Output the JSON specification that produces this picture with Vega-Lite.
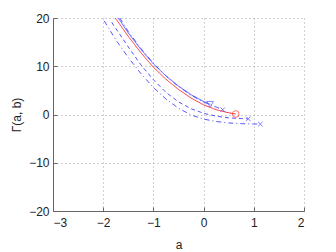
{
  "$schema": "https://vega.github.io/schema/vega-lite/v6.json",
  "autosize": "none",
  "width": 251,
  "height": 193,
  "padding": {"left": 53, "top": 18, "right": 32, "bottom": 41},
  "background": "white",
  "config": {
    "font": "Liberation Sans",
    "view": {"stroke": null},
    "axis": {
      "labelFont": "Liberation Sans",
      "titleFont": "Liberation Sans",
      "labelFontSize": 12,
      "titleFontSize": 12,
      "titleFontWeight": "normal",
      "labelColor": "#222",
      "titleColor": "#222",
      "domainColor": "#666",
      "tickColor": "#666",
      "gridColor": "#999",
      "gridDash": [1, 3],
      "gridOpacity": 0.9
    }
  },
  "datasets": {
    "lines": [
      {"s": "s1", "a": -1.70, "y": 20.0}, {"s": "s1", "a": -1.5, "y": 16.9}, {"s": "s1", "a": -1.25, "y": 13.5}, {"s": "s1", "a": -1.0, "y": 10.5}, {"s": "s1", "a": -0.75, "y": 8.0}, {"s": "s1", "a": -0.5, "y": 5.9}, {"s": "s1", "a": -0.25, "y": 4.1}, {"s": "s1", "a": 0.0, "y": 2.7}, {"s": "s1", "a": 0.13, "y": 2.1},
      {"s": "s2", "a": -1.67, "y": 20.0}, {"s": "s2", "a": -1.5, "y": 17.2}, {"s": "s2", "a": -1.25, "y": 13.7}, {"s": "s2", "a": -1.0, "y": 10.6}, {"s": "s2", "a": -0.75, "y": 8.0}, {"s": "s2", "a": -0.5, "y": 5.8}, {"s": "s2", "a": -0.25, "y": 4.0}, {"s": "s2", "a": 0.0, "y": 2.6}, {"s": "s2", "a": 0.13, "y": 2.05}, {"s": "s2", "a": 0.25, "y": 1.55}, {"s": "s2", "a": 0.38, "y": 1.0},
      {"s": "s3", "a": -1.76, "y": 20.0}, {"s": "s3", "a": -1.5, "y": 16.2}, {"s": "s3", "a": -1.25, "y": 12.8}, {"s": "s3", "a": -1.0, "y": 9.8}, {"s": "s3", "a": -0.75, "y": 7.3}, {"s": "s3", "a": -0.5, "y": 5.2}, {"s": "s3", "a": -0.25, "y": 3.4}, {"s": "s3", "a": 0.0, "y": 2.0}, {"s": "s3", "a": 0.25, "y": 1.0}, {"s": "s3", "a": 0.5, "y": 0.35}, {"s": "s3", "a": 0.64, "y": 0.1},
      {"s": "s4", "a": -1.83, "y": 19.1}, {"s": "s4", "a": -1.5, "y": 14.0}, {"s": "s4", "a": -1.25, "y": 10.3}, {"s": "s4", "a": -1.0, "y": 7.2}, {"s": "s4", "a": -0.75, "y": 4.6}, {"s": "s4", "a": -0.5, "y": 2.6}, {"s": "s4", "a": -0.25, "y": 1.2}, {"s": "s4", "a": 0.0, "y": 0.25}, {"s": "s4", "a": 0.25, "y": -0.35}, {"s": "s4", "a": 0.5, "y": -0.7}, {"s": "s4", "a": 0.75, "y": -0.85}, {"s": "s4", "a": 0.89, "y": -0.9},
      {"s": "s5", "a": -1.98, "y": 19.4}, {"s": "s5", "a": -1.75, "y": 15.5}, {"s": "s5", "a": -1.5, "y": 11.8}, {"s": "s5", "a": -1.25, "y": 8.5}, {"s": "s5", "a": -1.0, "y": 5.6}, {"s": "s5", "a": -0.75, "y": 3.2}, {"s": "s5", "a": -0.5, "y": 1.3}, {"s": "s5", "a": -0.25, "y": -0.1}, {"s": "s5", "a": 0.0, "y": -0.95}, {"s": "s5", "a": 0.25, "y": -1.45}, {"s": "s5", "a": 0.5, "y": -1.75}, {"s": "s5", "a": 0.75, "y": -1.9}, {"s": "s5", "a": 1.0, "y": -1.97}, {"s": "s5", "a": 1.13, "y": -2.0}
    ],
    "ends": [
      {"s": "s1", "a": 0.13, "y": 2.1},
      {"s": "s2", "a": 0.38, "y": 1.0},
      {"s": "s3", "a": 0.64, "y": 0.1},
      {"s": "s4", "a": 0.89, "y": -0.9},
      {"s": "s5", "a": 1.13, "y": -2.0}
    ]
  },
  "encoding": {
    "x": {
      "field": "a", "type": "quantitative",
      "scale": {"domain": [-3, 2], "nice": false, "zero": false},
      "axis": {"values": [-3, -2, -1, 0, 1, 2], "grid": true, "tickSize": -4, "labelPadding": 10, "title": "a", "titlePadding": 11}
    },
    "y": {
      "field": "y", "type": "quantitative",
      "scale": {"domain": [-20, 20], "nice": false, "zero": false},
      "axis": {"values": [-20, -10, 0, 10, 20], "grid": true, "tickSize": -4, "labelPadding": 8, "title": "Γ(a, b)", "titlePadding": 5}
    }
  },
  "layer": [
    {
      "data": {"name": "lines"},
      "mark": {"type": "line", "strokeWidth": 1, "clip": true},
      "encoding": {
        "detail": {"field": "s"},
        "color": {"field": "s", "type": "nominal", "legend": null,
          "scale": {"domain": ["s1", "s2", "s3", "s4", "s5"], "range": ["#5555ff", "#5555ff", "#ff3030", "#5555ff", "#5555ff"]}},
        "strokeDash": {"field": "s", "type": "nominal", "legend": null,
          "scale": {"domain": ["s1", "s2", "s3", "s4", "s5"], "range": [[1, 0], [5, 3, 1, 3], [1, 0], [4, 3], [5, 3, 1, 3]]}}
      }
    },
    {
      "data": {"name": "ends"},
      "mark": {"type": "point", "filled": false, "strokeWidth": 1, "size": 45},
      "encoding": {
        "color": {"field": "s", "type": "nominal", "legend": null,
          "scale": {"domain": ["s1", "s2", "s3", "s4", "s5"], "range": ["#5555ff", "#5555ff", "#ff3030", "#5555ff", "#5555ff"]}},
        "shape": {"field": "s", "type": "nominal", "legend": null,
          "scale": {"domain": ["s1", "s2", "s3", "s4", "s5"], "range": ["triangle-down", "M-0.7,-0.7L0.7,0.7M-0.7,0.7L0.7,-0.7", "circle", "M-0.7,-0.7L0.7,0.7M-0.7,0.7L0.7,-0.7", "M-0.7,-0.7L0.7,0.7M-0.7,0.7L0.7,-0.7"]}}
      }
    }
  ]
}
